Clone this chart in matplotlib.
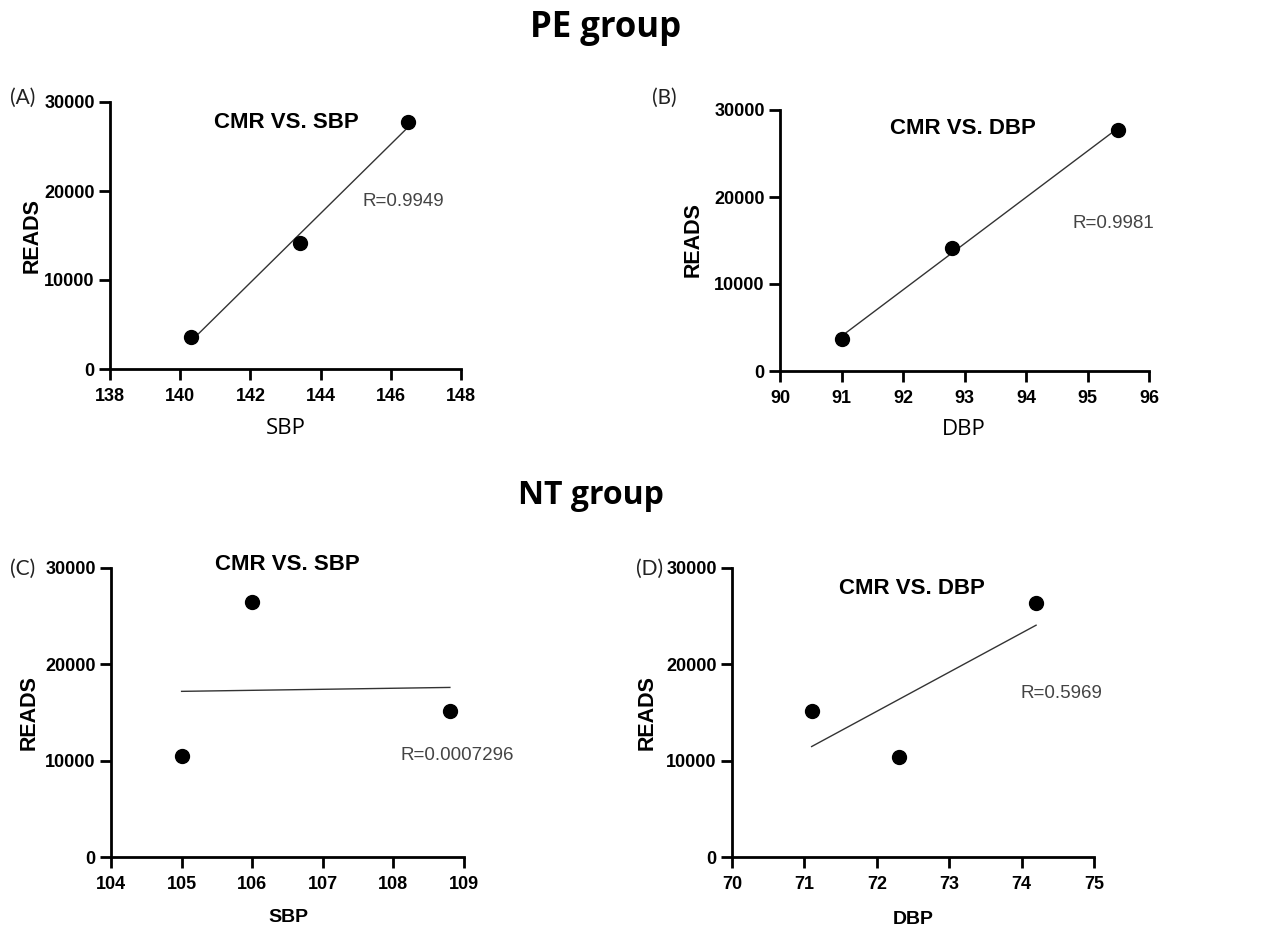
import numpy as np
import matplotlib
matplotlib.use("Agg")
import matplotlib.pyplot as plt

# ---- data ----
pe_sbp = [140.3, 143.4, 146.5]
pe_sbp_reads = [3600, 14150, 27700]
pe_dbp = [91.0, 92.8, 95.5]
pe_dbp_reads = [3650, 14170, 27700]
nt_sbp = [105.0, 106.0, 108.8]
nt_sbp_reads = [10440, 26470, 15190]
nt_dbp = [71.1, 72.3, 74.2]
nt_dbp_reads = [15120, 10380, 26370]

r_labels = ["R=0.9949", "R=0.9981", "R=0.0007296", "R=0.5969"]
panel_labels = ["(A)", "(B)", "(C)", "(D)"]
subtitles = ["CMR VS. SBP", "CMR VS. DBP", "CMR VS. SBP", "CMR VS. DBP"]
xlabels = ["SBP", "DBP", "SBP", "DBP"]
xlims = [(138, 148), (90, 96), (104, 109), (70, 75)]
xticks = [[138, 140, 142, 144, 146, 148], [90, 91, 92, 93, 94, 95, 96],
          [104, 105, 106, 107, 108, 109], [70, 71, 72, 73, 74, 75]]
yticks = [0, 10000, 20000, 30000]

W, H = 1267, 933
fig = plt.figure(figsize=(W / 100, H / 100), dpi=100)

def fx(px):
    return px / W

def fy(py):
    return 1 - py / H

# axes boxes in pixel coords: left, right, top, bottom
boxes = [(110, 461, 102, 369), (780, 1149, 110, 371),
         (111, 464, 568, 857), (732, 1094, 568, 857)]

data = [(pe_sbp, pe_sbp_reads), (pe_dbp, pe_dbp_reads),
        (nt_sbp, nt_sbp_reads), (nt_dbp, nt_dbp_reads)]

tick_font = dict(family=["Liberation Sans Narrow", "Liberation Sans"], weight="bold", size=13)
bold = ["Liberation Sans", "DejaVu Sans"]
light = ["Lato", "DejaVu Sans"]

# text positions (pixels)
sub_pos = [(286, 122), (963, 129), (287, 565), (912, 588)]
r_pos = [(362, 201), (1073, 224), (400, 756), (1020, 693)]
pl_pos = [(10, 98), (652, 98), (10, 569), (636, 569)]
xl_pos = [(286, 428), (964, 429), (288, 918), (913, 920)]
yl_pos = [(32, 236), (693, 240), (29, 713), (647, 713)]
xl_bold = [False, False, True, True]

for i, (box, (xv, yv)) in enumerate(zip(boxes, data)):
    l, r, t, b = box
    ax = fig.add_axes([fx(l), fy(b), fx(r - l), fy(t) - fy(b)])
    ax.set_xlim(*xlims[i])
    ax.set_ylim(0, 30000)
    ax.set_xticks(xticks[i])
    ax.set_yticks(yticks)
    ax.set_xticklabels([str(v) for v in xticks[i]], fontdict=tick_font)
    ax.set_yticklabels([str(v) for v in yticks], fontdict=tick_font)
    for s in ["top", "right"]:
        ax.spines[s].set_visible(False)
    for s in ["left", "bottom"]:
        ax.spines[s].set_linewidth(2)
        ax.spines[s].set_color("black")
    ax.tick_params(direction="out", length=8, width=2, colors="black")
    ax.tick_params(axis="x", pad=6)
    ax.tick_params(axis="y", pad=3)
    ax.patch.set_alpha(0)

    xa = np.array(xv, dtype=float)
    ya = np.array(yv, dtype=float)
    k, c = np.polyfit(xa, ya, 1)
    xs = np.array([xa.min(), xa.max()])
    ax.plot(xs, k * xs + c, color="#333333", lw=1.0, zorder=2)
    ax.plot(xa, ya, "o", color="black", ms=10, zorder=3, clip_on=False)

    fig.text(fx(sub_pos[i][0]), fy(sub_pos[i][1]), subtitles[i], ha="center", va="center",
             family=bold, weight="bold", size=16)
    fig.text(fx(r_pos[i][0]), fy(r_pos[i][1]), r_labels[i], ha="left", va="center",
             family=["Liberation Sans", "DejaVu Sans"], size=13.5, color="#444444")
    fig.text(fx(pl_pos[i][0]), fy(pl_pos[i][1]), panel_labels[i], ha="left", va="center",
             family=light, size=15, color="#222222")
    if xl_bold[i]:
        fig.text(fx(xl_pos[i][0]), fy(xl_pos[i][1]), xlabels[i], ha="center", va="center",
                 family=bold, weight="bold", size=14)
    else:
        fig.text(fx(xl_pos[i][0]), fy(xl_pos[i][1]), xlabels[i], ha="center", va="center",
                 family=["Open Sans", "DejaVu Sans"], size=16)
    fig.text(fx(yl_pos[i][0]), fy(yl_pos[i][1]), "READS", ha="center", va="center",
             rotation=90, family=bold, weight="bold", size=15.5)

fig.text(fx(606), fy(28), "PE group", ha="center", va="center",
         family=["Open Sans", "DejaVu Sans"], weight="bold", size=25)
fig.text(fx(591), fy(496), "NT group", ha="center", va="center",
         family=["Open Sans", "DejaVu Sans"], weight="bold", size=23)

fig.savefig("out.png", dpi=100, facecolor="white")
